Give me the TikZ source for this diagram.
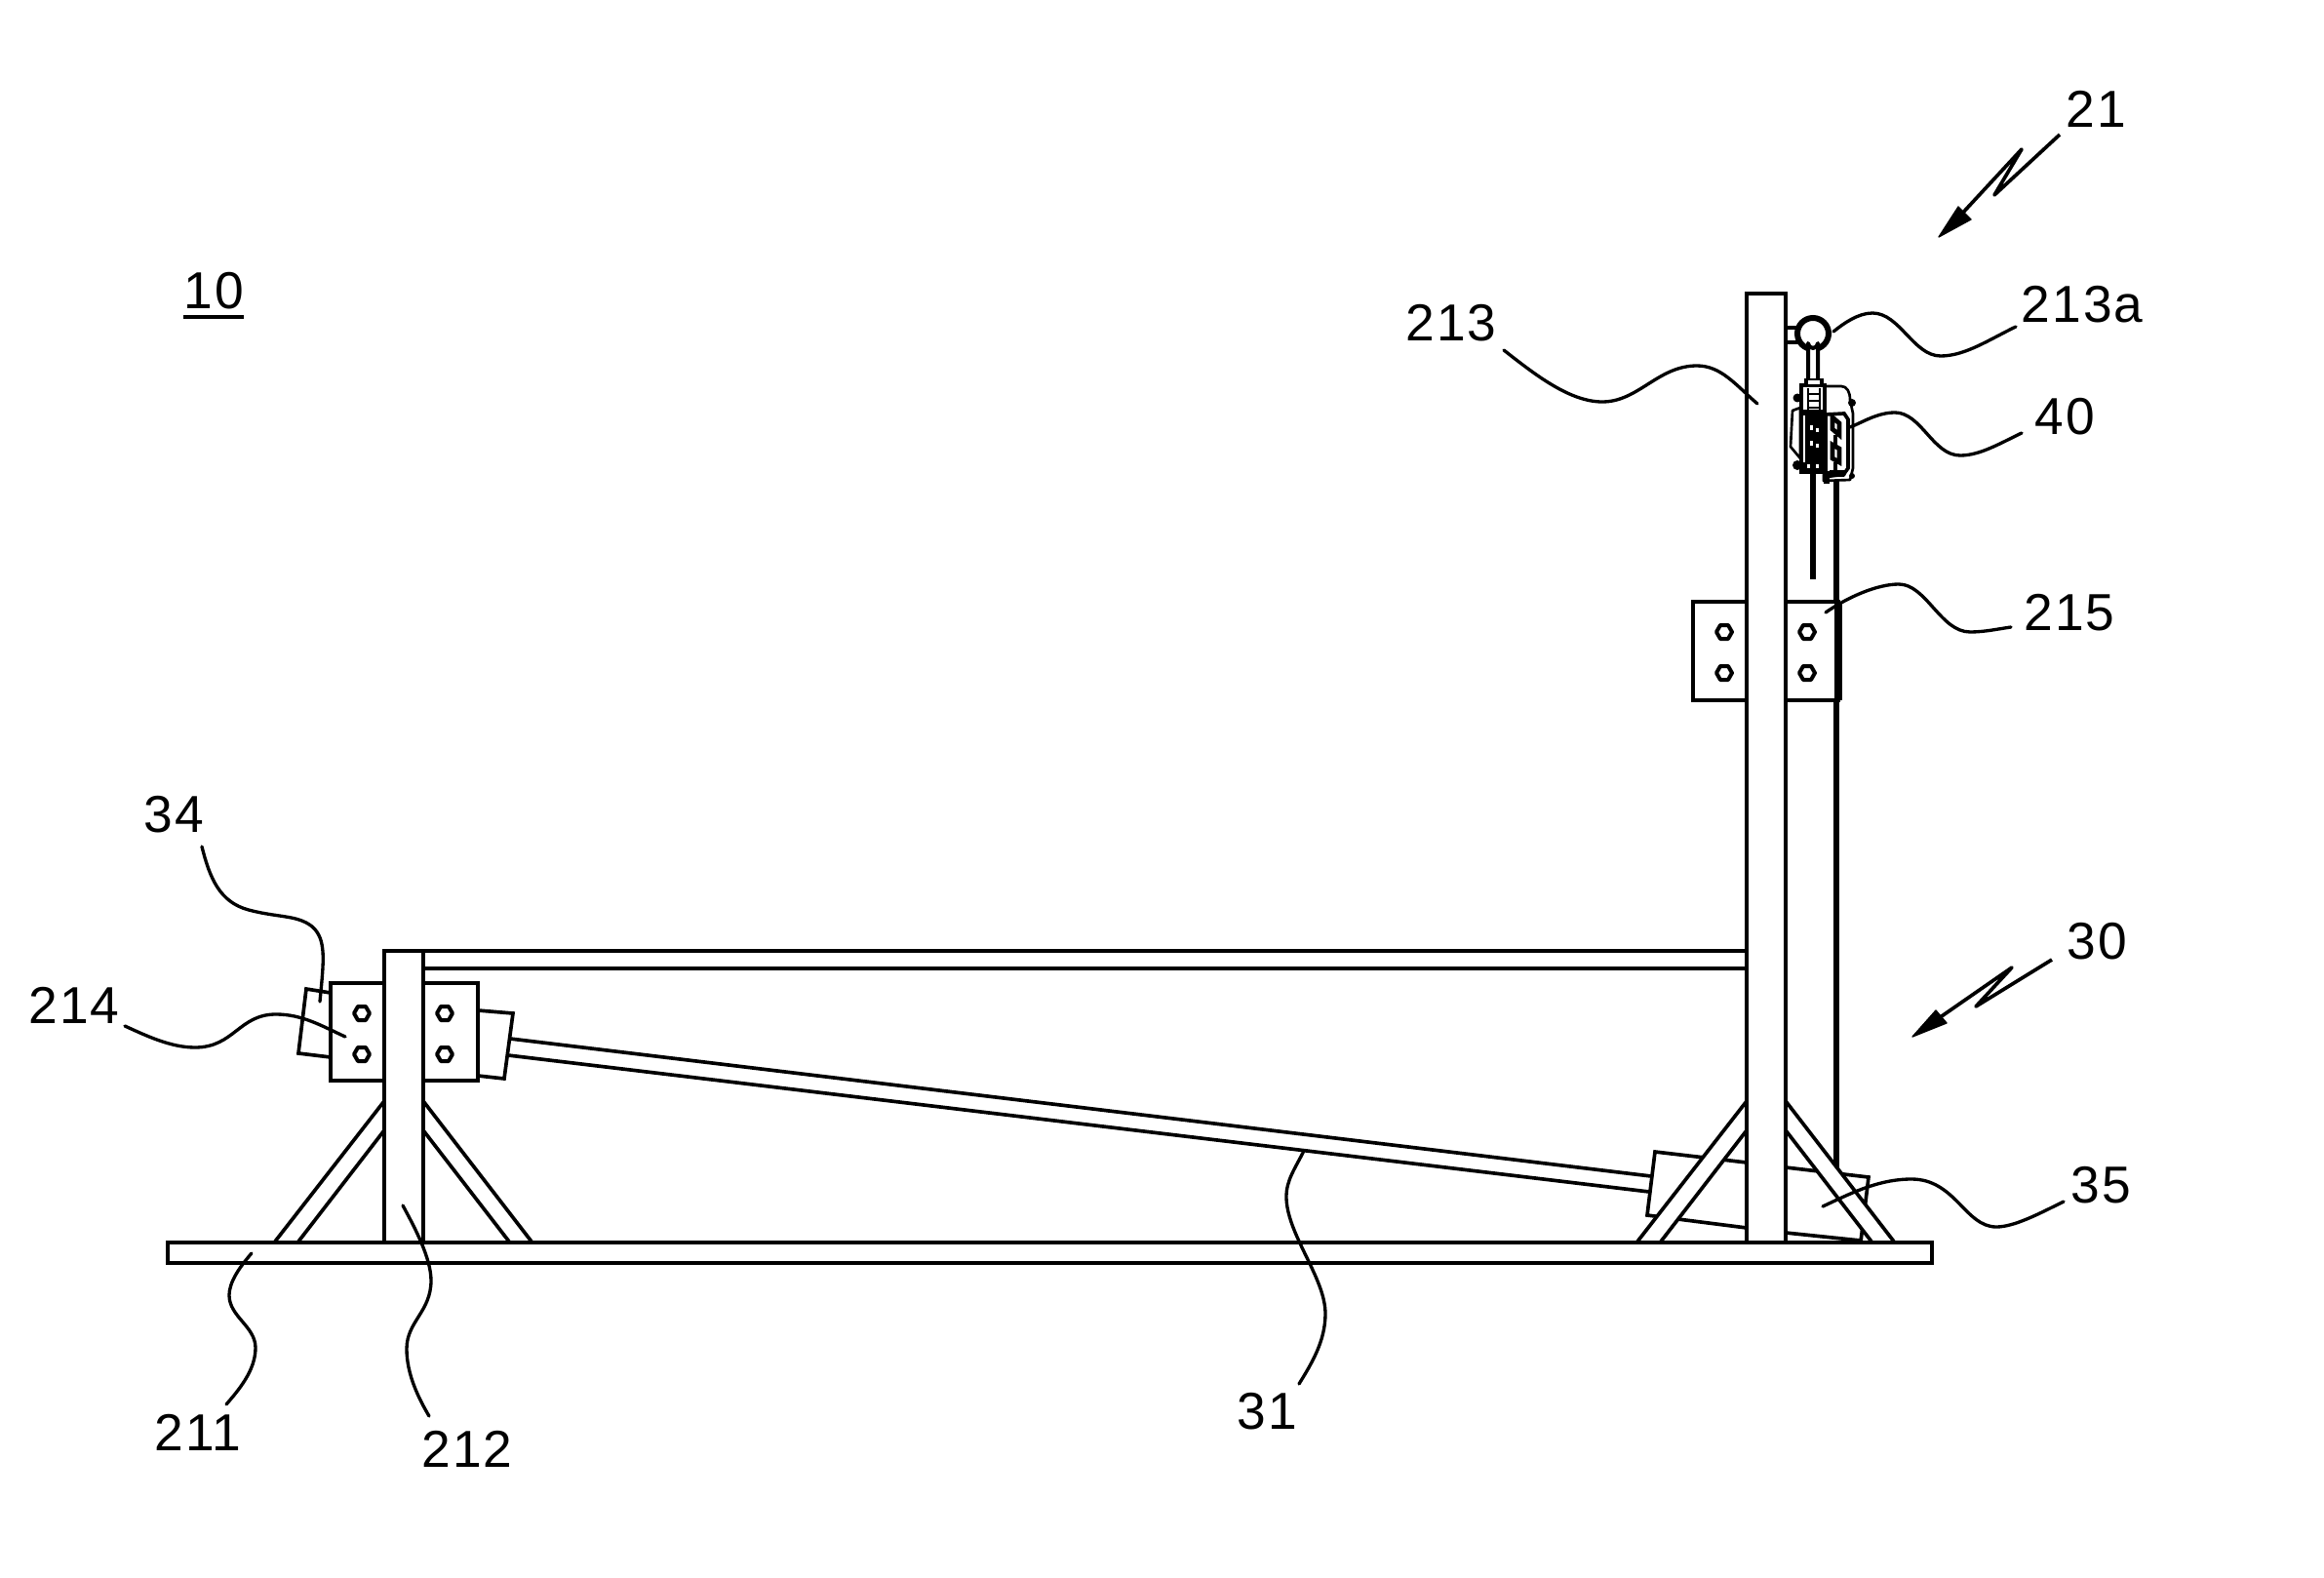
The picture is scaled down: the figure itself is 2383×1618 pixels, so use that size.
\documentclass[tikz,border=0pt]{standalone}
\usepackage{fontspec}
\setmainfont[LetterSpace=4]{Liberation Sans}
\tikzset{
  main/.style={draw=black,line width=1.4pt,fill=white,line join=miter},
  thinl/.style={draw=black,line width=1.1pt,line join=miter},
  leader/.style={draw=black,line width=1pt,line cap=round},
  lab/.style={inner sep=0pt,yshift=-0.3pt,font=\fontsize{16}{16}\selectfont,text=black},
  zig/.style={draw=black,line width=1.1pt,line join=round},
  hd/.style={fill=black,draw=black,line width=0.4pt,line join=round},
  hoistl/.style={draw=black,line width=0.8pt,line join=round}
}
\newcommand{\hexbolt}[2]{\draw[draw=black,line width=1.2pt,fill=white,line join=round] (#1-8,#2) -- ++(4,-7) -- ++(8,0) -- ++(4,7) -- ++(-4,7) -- ++(-8,0) -- cycle;}
\newcommand{\gussetpair}[4]{%
  \fill[white] (#1,1129) -- (#3,1273) -- (#4,1273) -- (#1,1159) -- cycle;
  \draw[thinl] (#1,1129) -- (#3,1273) (#1,1159) -- (#4,1273);}
\begin{document}
\begin{tikzpicture}[x=0.3pt,y=-0.3pt]
\useasboundingbox (0,0) rectangle (2383,1618);
\fill[white] (0,0) rectangle (2383,1618);
% rope behind gusset
\draw[draw=black,line width=1.7pt] (1883,490) -- (1883,1200);
% block 35
\draw[thinl,fill=white] (1791,1192) -- (1697,1181) -- (1689,1246) -- (1791,1259);
\draw[thinl,fill=white] (1831,1197) -- (1916,1207) -- (1908,1273) (1831,1264) -- (1908,1272);
% rod
\draw[thinl] (523,1065) -- (1693,1206) (521,1082) -- (1691,1222);
% block 34 and right block
\draw[thinl,fill=white] (339,1018) -- (314,1014) -- (306,1080) -- (339,1084);
\draw[thinl,fill=white] (490,1036) -- (526,1039) -- (517,1106) -- (490,1103);
% gussets
\gussetpair{394}{0}{282}{306}
\gussetpair{434}{0}{545}{522}
\gussetpair{1791}{0}{1679}{1703}
\gussetpair{1831}{0}{1942}{1919}
% beam
\draw[main] (434,975) -- (1791,975) (434,993) -- (1791,993);
% brackets
\draw[main] (339,1008) rectangle (490,1108);
\draw[main] (1736,617) rectangle (1885,718);
\draw[draw=black,line width=2.3pt] (1885,617) -- (1885,718);
\hexbolt{371}{1039}\hexbolt{371}{1081}\hexbolt{456}{1039}\hexbolt{456}{1081}
\hexbolt{1768}{648}\hexbolt{1768}{690}\hexbolt{1853}{648}\hexbolt{1853}{690}
% posts
\draw[main] (394,1273) -- (394,975) -- (434,975) -- (434,1273);
\fill[white] (397,978) rectangle (431,1272);
\draw[main] (1791,1273) -- (1791,301) -- (1831,301) -- (1831,1273);
\fill[white] (1794,304) rectangle (1828,1272);
% base
\draw[main] (172,1274) rectangle (1981,1295);
% rope in the middle
\draw[draw=black,line width=1.6pt] (1859,470) -- (1859,594);
% eye bolt
\draw[thinl] (1831,336) -- (1845,336) (1831,351) -- (1845,351);
\draw[draw=black,line width=1.8pt,fill=white] (1859,342) circle (16);
% link
\draw[draw=black,line width=1.2pt,fill=white,line join=round] (1854,392) -- (1854,352) arc[start angle=180,end angle=0,radius=5] -- (1864,392);
% hoist housing
\draw[hoistl,fill=white] (1871,396) -- (1888,396) .. controls (1894,396) and (1897,402) .. (1897,410) -- (1900,424) -- (1900,480) -- (1897,492) -- (1870,493) -- cycle;
\draw[hoistl,fill=white] (1846,418) -- (1838,421) -- (1836,458) -- (1846,470) -- cycle;
\draw[draw=black,line width=1.1pt,fill=white] (1872,425) -- (1891,424) -- (1895,430) -- (1895,480) -- (1890,487) -- (1872,487) -- cycle;
% frame
\draw[draw=black,line width=1.35pt,fill=white] (1847,395) rectangle (1871,484);
\fill[black] (1850,388) rectangle (1870,396);
\fill[white] (1854,390) rectangle (1866,394);
\draw[hoistl] (1854,398) -- (1854,420) (1866,398) -- (1866,420) (1854,404) -- (1866,404) (1854,411) -- (1866,411) (1854,418) -- (1866,418);
% hoist internals
\fill[black] (1849,420) rectangle (1870,426);
\fill[black] (1851,426) rectangle (1869,478);
\foreach \yy in {436,452}{\fill[white] (1856,\yy) rectangle (1859,\yy+5);\fill[white] (1862,\yy+3) rectangle (1865,\yy+7);}
\fill[black] (1846,474) rectangle (1872,482);
\fill[white] (1853,476) rectangle (1856,480);\fill[white] (1862,476) rectangle (1865,480);
% bolts
\fill[black] (1843,408) circle (4.5);
\fill[black] (1899,413) circle (4);
\fill[black] (1843,477) circle (5);
\fill[black] (1899,488) circle (3);
% chain
\draw[draw=black,line width=1.4pt] (1879,428) -- (1879,440) -- (1886,446) -- (1886,434) -- cycle;
\draw[draw=black,line width=1.4pt] (1882,446) -- (1882,456);
\draw[draw=black,line width=1.4pt] (1879,456) -- (1879,470) -- (1886,474) -- (1886,460) -- cycle;
\draw[draw=black,line width=1.4pt] (1882,474) -- (1882,488);
\fill[black] (1870,483) rectangle (1876,496);
\fill[black] (1876,482) -- (1894,482) -- (1892,488) -- (1876,490) -- cycle;
% labels
\node[lab] (n10) at (219,297) {10};
\coordinate (u10a) at (188,325); \coordinate (u10b) at (250,325);
\draw[draw=black,line width=1.2pt] (u10a) -- (u10b);
\node[lab] (n21) at (2149,111) {21};
\node[lab] (n213a) at (2135,311) {213a};
\node[lab] (n213) at (1488,330) {213};
\node[lab] (n40) at (2117,426) {40};
\node[lab] (n215) at (2122,627) {215};
\node[lab] (n30) at (2150,964) {30};
\node[lab] (n35) at (2154,1214) {35};
\node[lab] (n34) at (178,834) {34};
\node[lab] (n214) at (76,1030) {214};
\node[lab] (n211) at (203,1468) {211};
\node[lab] (n212) at (479,1485) {212};
\node[lab] (n31) at (1299,1446) {31};
% zigzag arrows
\coordinate (a21) at (2112,138); \coordinate (t21) at (1988,243);
\draw[zig] (a21) -- (2045,200) -- (2073,153) -- (2010,221);
\fill[hd] (t21) -- (2008,212) -- (2021,225) -- cycle;
\coordinate (a30) at (2104,984); \coordinate (t30) at (1961,1063);
\draw[zig] (a30) -- (2026,1032) -- (2063,992) -- (1988,1044);
\fill[hd] (t30) -- (1985,1036) -- (1996,1049) -- cycle;
% leaders
\coordinate (s34) at (207,868); \coordinate (e34) at (328,1027);
\draw[leader] (s34) .. controls (215,900) and (225,925) .. (255,933) .. controls (285,941) and (305,938) .. (320,950) .. controls (335,963) and (332,985) .. (e34);
\coordinate (s214) at (128,1052); \coordinate (e214) at (354,1063);
\draw[leader] (s214) .. controls (150,1062) and (175,1074) .. (200,1074) .. controls (240,1074) and (245,1040) .. (283,1040) .. controls (310,1040) and (330,1052) .. (e214);
\coordinate (s211) at (232,1440); \coordinate (e211) at (258,1285);
\draw[leader] (e211) .. controls (245,1300) and (235,1315) .. (235,1328) .. controls (235,1350) and (262,1360) .. (262,1382) .. controls (262,1405) and (245,1425) .. (s211);
\coordinate (s212) at (440,1452); \coordinate (e212) at (413,1236);
\draw[leader] (e212) .. controls (425,1258) and (442,1290) .. (442,1313) .. controls (442,1345) and (417,1355) .. (417,1383) .. controls (417,1410) and (430,1435) .. (s212);
\coordinate (s31) at (1332,1419); \coordinate (e31) at (1337,1180);
\draw[leader] (e31) .. controls (1328,1198) and (1319,1210) .. (1319,1227) .. controls (1319,1265) and (1359,1310) .. (1359,1347) .. controls (1359,1375) and (1345,1398) .. (s31);
\coordinate (s213) at (1542,359); \coordinate (e213) at (1802,414);
\draw[leader] (s213) .. controls (1575,385) and (1610,412) .. (1643,412) .. controls (1680,412) and (1700,375) .. (1740,375) .. controls (1765,375) and (1780,395) .. (e213);
\coordinate (s213a) at (2067,335); \coordinate (e213a) at (1880,340);
\draw[leader] (s213a) .. controls (2040,348) and (2015,365) .. (1990,365) .. controls (1962,365) and (1948,321) .. (1920,321) .. controls (1905,321) and (1890,332) .. (e213a);
\coordinate (s40) at (2073,444); \coordinate (e40) at (1897,438);
\draw[leader] (s40) .. controls (2050,455) and (2030,467) .. (2010,467) .. controls (1982,467) and (1970,423) .. (1943,423) .. controls (1925,423) and (1910,433) .. (e40);
\coordinate (s215) at (2062,643); \coordinate (e215) at (1872,628);
\draw[leader] (s215) .. controls (2048,645) and (2035,648) .. (2020,648) .. controls (1990,648) and (1975,599) .. (1947,599) .. controls (1925,599) and (1895,612) .. (e215);
\coordinate (s35) at (2116,1232); \coordinate (e35) at (1869,1237);
\draw[leader] (s35) .. controls (2090,1245) and (2065,1258) .. (2047,1258) .. controls (2015,1258) and (2005,1209) .. (1960,1209) .. controls (1925,1209) and (1895,1225) .. (e35);
\end{tikzpicture}
\end{document}
